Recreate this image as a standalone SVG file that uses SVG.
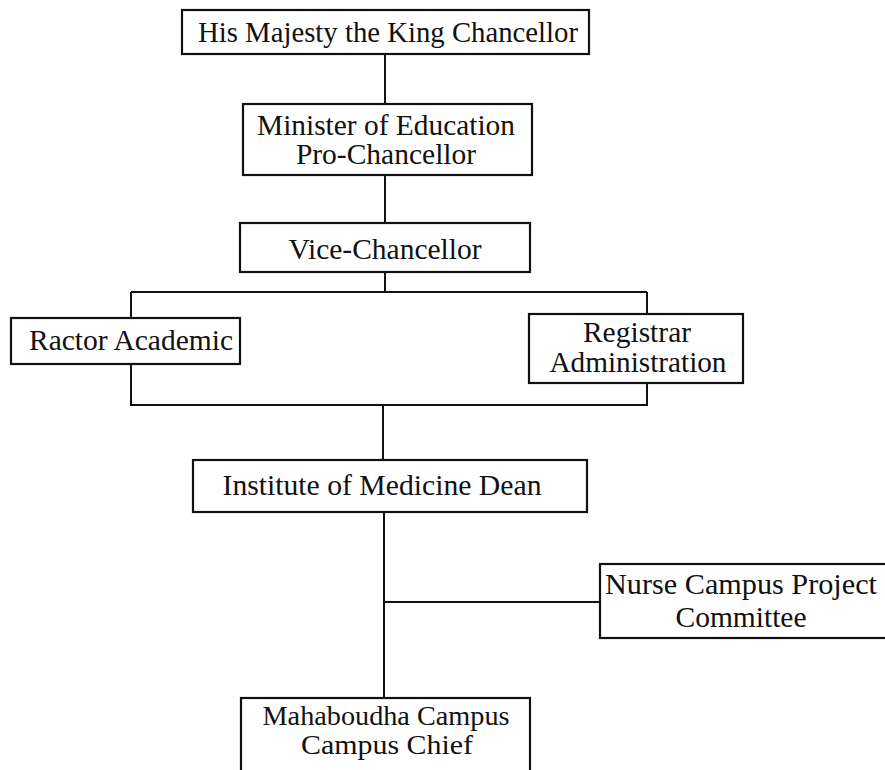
<svg xmlns="http://www.w3.org/2000/svg" width="885" height="770" viewBox="0 0 885 770">
<style>
.box{fill:#fff;stroke:#111;stroke-width:2.2}
.ln{fill:none;stroke:#111;stroke-width:2}
text{font-family:"Liberation Serif","Times New Roman",serif;font-size:29.5px;fill:#111;text-anchor:middle}
.sm{font-size:26.5px}
</style>
<rect width="885" height="770" fill="#fff"/>
<g id="connectors">
<path class="ln" d="M385 54V104M385 175V223M385 272V292M131 292H647M131 292V318M647 292V314M131 364V405H647V383M383 405V460M384 512V698M384 602H600"/>
</g>
<g id="king">
<rect class="box" x="182" y="10" width="407" height="44"/>
<text x="388" y="42" textLength="380" lengthAdjust="spacingAndGlyphs">His Majesty the King Chancellor</text>
</g>
<g id="minister">
<rect class="box" x="243" y="104" width="289" height="71"/>
<text x="386" y="135" textLength="258" lengthAdjust="spacingAndGlyphs">Minister of Education</text>
<text x="386" y="164">Pro-Chancellor</text>
</g>
<g id="vice">
<rect class="box" x="240" y="223" width="290" height="49"/>
<text x="385" y="259">Vice-Chancellor</text>
</g>
<g id="ractor">
<rect class="box" x="11" y="318" width="229" height="46"/>
<text x="131" y="350" textLength="204" lengthAdjust="spacingAndGlyphs">Ractor Academic</text>
</g>
<g id="registrar">
<rect class="box" x="529" y="314" width="214" height="69"/>
<text x="637" y="342">Registrar</text>
<text x="638" y="372" textLength="177" lengthAdjust="spacingAndGlyphs">Administration</text>
</g>
<g id="dean">
<rect class="box" x="193" y="460" width="394" height="52"/>
<text x="382" y="495" textLength="319" lengthAdjust="spacingAndGlyphs">Institute of Medicine Dean</text>
</g>
<g id="nurse">
<rect class="box" x="600" y="564" width="300" height="74"/>
<text x="741" y="594" textLength="272" lengthAdjust="spacingAndGlyphs">Nurse Campus Project</text>
<text x="741" y="627">Committee</text>
</g>
<g id="mahaboudha">
<rect class="box" x="241" y="698" width="289" height="90"/>
<text class="sm" x="386" y="725" textLength="247" lengthAdjust="spacingAndGlyphs">Mahaboudha Campus</text>
<text class="sm" x="387" y="754" textLength="172" lengthAdjust="spacingAndGlyphs">Campus Chief</text>
</g>
</svg>
